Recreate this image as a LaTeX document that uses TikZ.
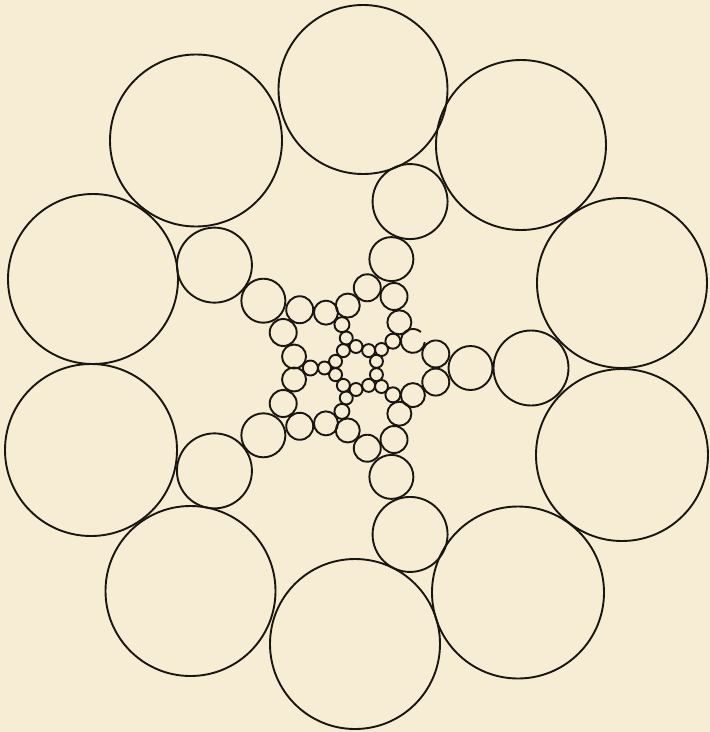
\documentclass[tikz,border=0pt]{standalone}
\definecolor{paper}{RGB}{246,237,212}
\definecolor{ink}{RGB}{25,22,18}
\begin{document}
\begin{tikzpicture}[x=1pt,y=-1pt,
  ring/.style={draw=ink, line width=1.9pt}]
\fill[paper] (0,0) rectangle (710,732);
\useasboundingbox (0,0) rectangle (710,732);
% outer ring of ten large circles
\foreach \cx/\cy/\r in {363/89.5/84.5, 521/145/85, 622/283/85, 622/455/86,
  518/592.5/86, 355/644/85, 190.5/591/85, 91/450/86, 93/279/85, 196/140.5/86}
  \draw[ring] (\cx,\cy) circle[radius=\r];
% inner five-fold structure
\begin{scope}[shift={(356,368)}]
\foreach \a in {0,72,144,216,288} {
  \draw[ring] (\a:175) circle[radius=37.5];
  \draw[ring] (\a:114.5) circle[radius=22];
  \draw[ring] ({\a+10}:81) circle[radius=13.5];
  \draw[ring] ({\a-10}:81) circle[radius=13.5];
  \draw[ring] ({\a+18}:21.5) circle[radius=6.5];
  \draw[ring] ({\a+54}:21.5) circle[radius=6.5];
  \draw[ring] ({\a+36}:31.5) circle[radius=6.5];
  \draw[ring] ({\a+36}:45.6) circle[radius=7.5];
  \draw[ring] ({\a+25.5}:63) circle[radius=12];
}
\foreach \a in {0,72,144,216}
  \draw[ring] ({\a+46.5}:63) circle[radius=12];
% the one broken circle
\draw[ring] (-25.5:63) ++(6:12) arc[start angle=6, end angle=312, radius=12];
\end{scope}
\end{tikzpicture}
\end{document}
